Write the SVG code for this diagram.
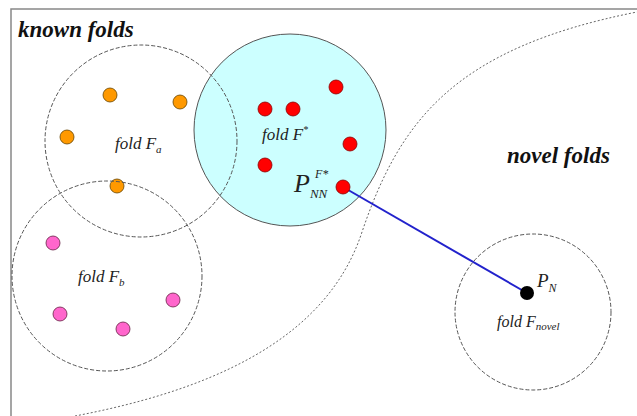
<svg xmlns="http://www.w3.org/2000/svg" width="637" height="416" viewBox="0 0 637 416">
<style>
.lbl{font-family:"Liberation Serif","DejaVu Serif",serif;font-style:italic;fill:#222}
.hd{font-family:"Liberation Serif","DejaVu Serif",serif;font-style:italic;font-weight:bold;fill:#111;font-size:23px}
.dc{fill:none;stroke:#555;stroke-width:1;stroke-dasharray:4 2}
.or{fill:#ff9900;stroke:#664400;stroke-width:0.8}
.rd{fill:#ff0000;stroke:#880000;stroke-width:0.8}
.pk{fill:#ff66cc;stroke:#662244;stroke-width:0.8}
</style>
<rect x="0" y="0" width="637" height="416" fill="#fff"/>
<rect x="11" y="9" width="640" height="420" fill="#fff" stroke="#888" stroke-width="1.5"/>
<text class="hd" x="18" y="37">known folds</text>
<text class="hd" x="507" y="163">novel folds</text>
<path d="M 75 416 C 200 392, 325 345, 362 232 C 400 120, 455 48, 637 12" fill="none" stroke="#666" stroke-width="1" stroke-dasharray="2 2"/>
<g id="foldFstar">
<circle cx="290" cy="130" r="96" fill="#ccffff" stroke="#555" stroke-width="1"/>
</g>
<g id="foldFa">
<circle class="dc" cx="141" cy="141" r="96"/>
<circle class="or" cx="110" cy="95" r="7"/>
<circle class="or" cx="180" cy="102" r="7"/>
<circle class="or" cx="67" cy="137" r="7"/>
<circle class="or" cx="117" cy="186" r="7"/>
<text class="lbl" x="115" y="149" font-size="17">fold F<tspan font-size="11" dy="4">a</tspan></text>
</g>
<g id="foldFb">
<circle class="dc" cx="107" cy="276" r="95"/>
<circle class="pk" cx="53" cy="243" r="7"/>
<circle class="pk" cx="60" cy="314" r="7"/>
<circle class="pk" cx="123" cy="329" r="7"/>
<circle class="pk" cx="173" cy="300" r="7"/>
<text class="lbl" x="78" y="282" font-size="17">fold F<tspan font-size="11" dy="4">b</tspan></text>
</g>
<g id="foldFstar-content">
<circle class="rd" cx="265" cy="109" r="7"/>
<circle class="rd" cx="293" cy="109" r="7"/>
<circle class="rd" cx="336" cy="87" r="7"/>
<circle class="rd" cx="350" cy="144" r="7"/>
<circle class="rd" cx="265" cy="165" r="7"/>
<text class="lbl" x="262" y="140" font-size="17">fold F<tspan font-size="10" dy="-7">*</tspan></text>
<text class="lbl" x="294" y="192" font-size="26">P<tspan font-size="13" dy="6">NN</tspan></text>
<text class="lbl" x="315" y="178" font-size="12">F*</text>
</g>
<g id="connectors">
<line x1="343" y1="187" x2="527" y2="293" stroke="#2222cc" stroke-width="2"/>
</g>
<g id="PNN">
<circle class="rd" cx="343" cy="187" r="7"/>
</g>
<g id="foldFnovel">
<circle class="dc" cx="533" cy="312" r="78"/>
<circle cx="527" cy="293" r="7" fill="#000"/>
<text class="lbl" x="537" y="287" font-size="19">P<tspan font-size="12" dy="5">N</tspan></text>
<text class="lbl" x="497" y="327" font-size="16">fold F<tspan font-size="11" dy="3">novel</tspan></text>
</g>
</svg>
